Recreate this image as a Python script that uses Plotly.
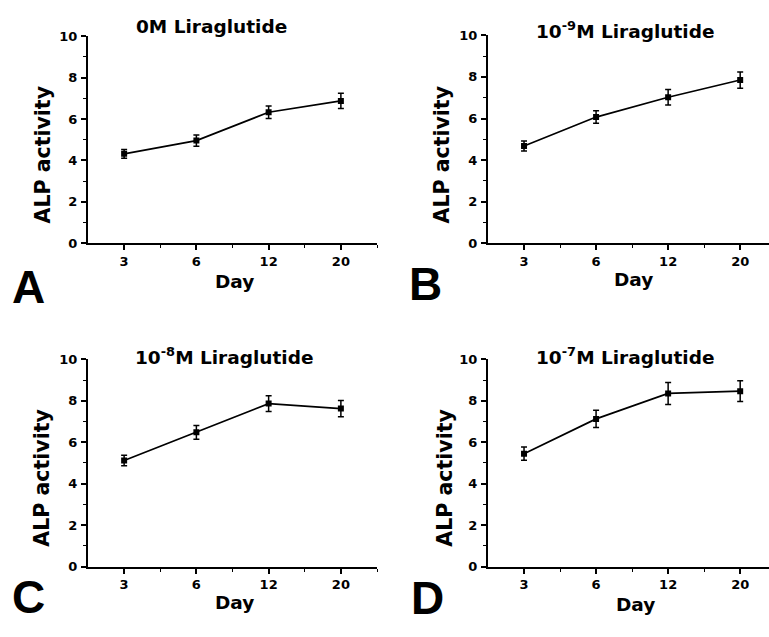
import plotly.graph_objects as go

days = ["3", "6", "12", "20"]
titles = ["0M Liraglutide", "10<sup>-9</sup>M Liraglutide",
          "10<sup>-8</sup>M Liraglutide", "10<sup>-7</sup>M Liraglutide"]
letters = ["A", "B", "C", "D"]
alp_A = [4.32, 4.96, 6.33, 6.88]
err_A = [0.21, 0.27, 0.30, 0.37]
alp_B = [4.68, 6.07, 7.02, 7.85]
err_B = [0.24, 0.30, 0.37, 0.39]
alp_C = [5.12, 6.48, 7.87, 7.63]
err_C = [0.25, 0.33, 0.38, 0.39]
alp_D = [5.45, 7.13, 8.36, 8.47]
err_D = [0.32, 0.42, 0.53, 0.50]
y_ticks = [0, 2, 4, 6, 8, 10]

series = [(alp_A, err_A), (alp_B, err_B), (alp_C, err_C), (alp_D, err_D)]

W, H = 769, 637
# plot-area boxes in pixels (left, right, top, bottom)
boxes = [(88, 377, 30, 242), (488, 769, 29, 242),
         (88, 377, 361, 573), (488, 769, 361, 573)]
xranges = [[-0.5, 3.5], [-0.5, 3.4], [-0.5, 3.5], [-0.5, 3.4]]
title_pos = [(211, 20), (625, 24), (224, 357), (625, 357)]
ylab_pos = [(43, 152), (442, 152), (42, 483), (445, 483)]
xlab_pos = [(234, 281), (633, 279), (234, 610), (635, 612)]
letter_pos = [(28, 287), (425, 284), (28, 604), (427, 605)]

xpos = list(range(len(days)))
fig = go.Figure()
bold = dict(family="DejaVu Sans", color="black", weight="bold")

annotations = []
layout = {}
for i, ((vals, errs), box) in enumerate(zip(series, boxes)):
    n = "" if i == 0 else str(i + 1)
    l, r, t, b = box
    fig.add_trace(go.Scatter(
        x=xpos, y=vals, mode="lines+markers",
        xaxis="x" + n, yaxis="y" + n,
        line=dict(color="black", width=1.7),
        marker=dict(symbol="square", size=6, color="black"),
        error_y=dict(type="data", array=errs, color="black", thickness=1.5, width=3),
        showlegend=False,
    ))
    layout["xaxis" + n] = dict(
        domain=[l / W, r / W], anchor="y" + n, range=xranges[i],
        tickmode="array", tickvals=xpos, ticktext=days,
        showline=True, linecolor="black", linewidth=2, showgrid=False, zeroline=False,
        ticks="outside", ticklen=5, tickwidth=1.5, tickcolor="black",
        minor=dict(tickmode="array", tickvals=[0.5, 1.5, 2.5, 3.5], ticks="outside",
                   ticklen=3, tickwidth=1.2, tickcolor="black"),
        tickfont=dict(size=13, **bold), fixedrange=True,
    )
    layout["yaxis" + n] = dict(
        domain=[1 - b / H, 1 - t / H], anchor="x" + n, range=[0, 10],
        tickmode="array", tickvals=y_ticks,
        showline=True, linecolor="black", linewidth=2, showgrid=False, zeroline=False,
        ticks="outside", ticklen=5, tickwidth=1.5, tickcolor="black",
        minor=dict(tickmode="array", tickvals=[1, 3, 5, 7, 9], ticks="outside",
                   ticklen=3, tickwidth=1.2, tickcolor="black"),
        tickfont=dict(size=13, **bold), ticklabelstandoff=1, fixedrange=True,
    )
    tx, ty = title_pos[i]
    annotations.append(dict(text=titles[i], x=tx / W, y=1 - ty / H, xref="paper", yref="paper",
                            showarrow=False, xanchor="center", yanchor="middle",
                            font=dict(size=18.5, **bold)))
    yx, yy = ylab_pos[i]
    annotations.append(dict(text="ALP activity", x=yx / W, y=1 - yy / H, xref="paper", yref="paper",
                            showarrow=False, xanchor="center", yanchor="middle", textangle=-90,
                            font=dict(size=20.5, **bold)))
    xx, xy = xlab_pos[i]
    annotations.append(dict(text="Day", x=xx / W, y=1 - xy / H, xref="paper", yref="paper",
                            showarrow=False, xanchor="center", yanchor="middle",
                            font=dict(size=18.5, **bold)))
    lx, ly = letter_pos[i]
    annotations.append(dict(text=letters[i], x=lx / W, y=1 - ly / H, xref="paper", yref="paper",
                            showarrow=False, xanchor="center", yanchor="middle",
                            font=dict(family="Liberation Sans", size=46, color="black", weight="bold")))

fig.update_layout(
    width=W, height=H, margin=dict(l=0, r=0, t=0, b=0),
    paper_bgcolor="white", plot_bgcolor="white",
    annotations=annotations, **layout,
)
fig.write_html("out.html", config={"displayModeBar": False},
               post_script="document.body.style.margin='0';document.body.style.overflow='hidden';")
